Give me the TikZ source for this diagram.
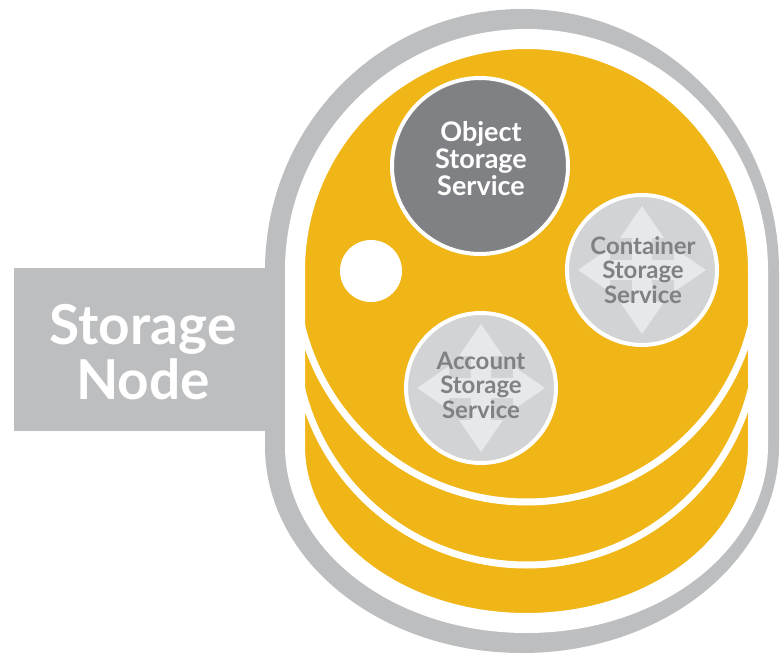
\documentclass[tikz,border=0pt]{standalone}
\usepackage{fontspec}
\setmainfont{Lato}
\definecolor{diskyellow}{RGB}{240,181,22}
\definecolor{rimgray}{RGB}{188,190,192}
\definecolor{darkgray}{RGB}{128,129,132}
\definecolor{lightdisc}{RGB}{209,211,212}
\definecolor{arrowpale}{RGB}{231,232,233}
\tikzset{
  svcdark/.style={circle, fill=darkgray, draw=white, line width=4pt, minimum size=176pt, inner sep=0pt},
  svclight/.style={circle, fill=lightdisc, draw=white, line width=4pt, minimum size=150pt, inner sep=0pt},
  darklabel/.style={font=\bfseries\fontsize{27}{27}\selectfont, text=white, align=center},
  lightlabel/.style={font=\bfseries\fontsize{24}{24.5}\selectfont, text=darkgray, align=center},
  panellabel/.style={font=\bfseries\fontsize{55}{55}\selectfont, text=white, align=center},
  layerline/.style={draw=white, line width=7pt},
  quadarrow/.pic={
    \fill[arrowpale] (0,-64) -- (22,-32) -- (10,-32) -- (10,-10) -- (32,-10) -- (32,-22)
      -- (64,0) -- (32,22) -- (32,10) -- (10,10) -- (10,32) -- (22,32) -- (0,64)
      -- (-22,32) -- (-10,32) -- (-10,10) -- (-32,10) -- (-32,22) -- (-64,0)
      -- (-32,-22) -- (-32,-10) -- (-10,-10) -- (-10,-32) -- (-22,-32) -- cycle;
  }
}
\begin{document}
\begin{tikzpicture}[x=1pt, y=-1pt]
\useasboundingbox (0,0) rectangle (782,660);

% label panel behind the stack
\node[fill=rimgray, minimum width=286pt, minimum height=163pt, inner sep=0pt] (panel) at (157,349.5) {};
\node[panellabel] (panelText) at (143,352) {Storage\\Node};

% grey rim of the stack
\fill[rimgray] (265,446) -- (265,270.5)
  arc[start angle=180, end angle=360, x radius=257, y radius=261.5]
  -- (779,446)
  arc[start angle=0, end angle=180, x radius=257, y radius=207] -- cycle;

% yellow stack with its white border
\path[draw=white, line width=20pt, fill=diskyellow] (295,446) -- (295,270.5)
  arc[start angle=180, end angle=360, radius=231.5]
  -- (758,446)
  arc[start angle=0, end angle=180, x radius=231.5, y radius=177] -- cycle;

% separating lines between the three layers (lower rims of the two upper discs)
\begin{scope}
  \clip (295,446) -- (295,270.5)
    arc[start angle=180, end angle=360, radius=231.5]
    -- (758,446)
    arc[start angle=0, end angle=180, x radius=231.5, y radius=177] -- cycle;
  \draw[layerline] (758,270.5) arc[start angle=0, end angle=180, radius=231.5];
  \draw[layerline] (758,333.5) arc[start angle=0, end angle=180, radius=231.5];
\end{scope}

% small white marker
\node[circle, fill=white, minimum size=62pt, inner sep=0pt] (dot) at (371,271) {};

% services
\node[svcdark] (object) at (480,166) {};
\node[darklabel] (objectText) at (481,159) {Object\\Storage\\Service};

\node[svclight] (container) at (642,270) {};
\pic at (container.center) {quadarrow};
\node[lightlabel] (containerText) at (643,270) {Container\\Storage\\Service};

\node[svclight] (account) at (481,388) {};
\pic at (account.center) {quadarrow};
\node[lightlabel] (accountText) at (481,385) {Account\\Storage\\Service};
\end{tikzpicture}
\end{document}
